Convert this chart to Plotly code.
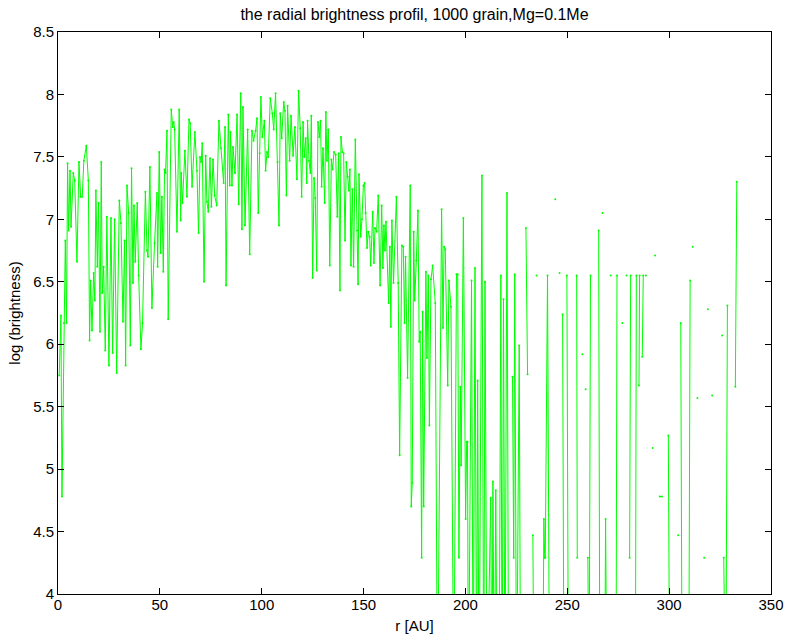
import plotly.graph_objects as go

# ---- data (r in AU, log brightness); None = gap ----
r_inner = [0.6,1.45,1.95,2.9,3.6,4.2,4.7,5.2,5.9,6.4,
           7.5,8.2,9.3,10.3,11.1,11.9,12.7,13.9,14.9,15.5,
           16.0,16.7,17.5,18.1,18.6,19.3,19.9,20.6,21.25,21.7,
           22.4,23.2,24.0,25.0,26.0,26.8,27.8,28.8,30.1,30.9,
           31.9,32.7]
b_inner = [5.75,6.23,4.78,6.17,6.83,6.17,7.45,6.91,7.39,6.94,
           7.37,7.31,6.66,7.46,7.18,7.18,7.47,7.59,7.31,6.03,
           6.51,6.11,6.57,6.35,7.23,6.62,7.13,6.1,7.46,6.41,
           6.62,5.95,7.02,5.83,7.01,5.93,7.0,5.77,7.15,6.97,
           6.18,6.83]

r_rise = [33.2,33.85,34.7,35.5,36.1,36.8,37.3,37.9,38.9,39.6,
          40.7,41.5,42.9,43.7,44.2,45.1,46.1,47.4,48.6,48.9,
          49.7,50.4,51.0,51.7,52.3,52.8,53.5,54.1,55.6,56.3,
          56.8,57.25,58.4,59.5,60.2,60.5,61.1,62.3]
b_rise = [5.83,7.27,7.05,5.99,7.41,6.49,7.11,6.66,7.13,6.55,
          5.96,6.17,7.22,6.75,6.7,7.42,6.29,6.81,7.21,6.62,
          7.54,6.73,7.18,6.58,7.4,7.37,7.71,6.2,7.88,7.74,
          7.78,7.72,6.9,7.88,6.99,7.37,7.13,7.55]

r_peak = [63.3,64.3,64.9,65.8,67.2,68.2,69.0,69.7,70.3,70.8,
          71.7,72.5,73.1,73.8,74.6,75.3,76.1,76.9,77.9,79.0,
          80.0,81.3,82.0,82.5,83.6,84.3,84.7,85.4,85.9,86.9,
          87.9,88.7,89.7,90.3,90.8,91.8,93.1,94.1,95.2,96.0,
          97.0,97.7,98.3,99.0,99.6,100.3,101.3,101.9,102.6,103.2,
          104.2,105.2,105.9,106.8,107.8,108.5,109.1,109.8,110.8,111.4,
          112.1,112.7,113.7,114.4,115.4,116.3,117.3,118.1,118.9]
b_peak = [7.18,7.8,7.77,7.26,7.7,7.39,6.89,7.5,7.46,7.61,
          6.5,7.51,7.14,7.06,7.49,7.1,7.48,7.19,7.11,7.79,
          7.57,7.29,7.74,6.47,7.84,7.27,7.7,7.27,7.58,7.37,
          7.84,7.12,8.01,6.92,7.9,6.95,7.72,6.72,7.71,7.63,
          7.71,7.81,7.05,7.53,7.98,7.66,7.79,7.39,7.54,7.5,
          7.97,7.85,7.72,8.01,7.46,6.95,7.85,7.65,7.94,7.87,
          7.19,7.91,7.47,7.83,7.51,7.74,7.32,8.03,7.73]

r_fall = [119.6,120.3,120.9,121.6,122.1,122.5,123.2,123.9,124.35,125.0,
          125.7,126.3,127.0,127.6,128.3,128.9,129.4,130.1,130.9,131.5,
          132.0,132.7,133.4,134.2,134.8,135.5,136.3,137.1,137.8,138.4,
          138.9,139.6,140.2,140.9,141.5,142.2,142.8,143.3,143.8,144.5,
          145.1,145.95,146.8,147.3,147.75,148.6,149.2,149.9,150.5,151.0,
          151.7,152.3,153.0,153.5,154.5,155.1,155.6,156.4,157.2,158.1]
b_fall = [7.18,7.78,7.5,7.65,7.29,7.79,7.47,7.37,7.83,6.53,
          7.33,7.17,6.59,7.78,7.66,7.79,7.26,7.57,7.13,7.86,
          7.47,7.72,6.63,7.48,7.4,7.54,7.52,7.02,7.53,6.43,
          7.66,7.54,7.53,6.83,7.46,7.34,7.23,7.4,6.63,7.24,
          6.62,7.64,6.91,6.48,7.36,6.86,7.0,7.27,7.29,7.05,
          6.77,6.9,6.86,6.63,7.06,6.65,6.93,6.9,7.19,6.47]

r_edge = [158.9,159.5,160.0,160.5,161.0,162.3,162.9,163.4,163.9,164.7,
          166.1,167.0,167.7,168.8,169.5,170.1,170.6,171.6,172.9,173.4,
          173.9,174.6,175.1,175.9,176.7,177.3,177.8,178.5,179.0,179.5,
          180.6,181.1,181.8,182.3,183.1,183.9,185.2,186.3,188.3,189.0,
          189.5,190.1,191.3,191.9,192.9]
b_edge = [7.11,6.61,6.95,6.75,6.98,6.33,6.78,6.14,6.99,6.49,
          7.18,6.49,5.11,6.79,6.78,6.17,6.7,5.73,7.27,4.7,
          4.89,6.9,6.35,6.67,7.07,6.02,6.1,4.29,6.26,4.7,
          6.58,5.89,6.55,5.35,6.52,6.63,6.33,3.0,7.08,6.13,
          6.78,6.76,5.67,6.51,6.3]

r_sparse1 = [194.3,195.6,196.2,196.8,197.5,197.9,199.0,200.1,200.6,201.0,
             201.5,203.0,203.8,204.7,205.5,206.0,206.7,208.1,209.0,209.6,
             210.6,212.4,213.0,213.5,214.2,214.9,215.6,216.5,217.4,218.0,
             218.7,219.4,220.4,221.2,None,223.1,223.7,224.2,225.1,226.4,
             227.1,None,229.7,230.5,None]
b_sparse1 = [3.0,6.56,6.56,4.29,5.66,5.03,7.01,4.6,5.22,5.22,
             3.0,6.51,3.0,6.61,3.0,5.71,3.0,7.35,3.0,6.5,
             3.0,4.77,3.0,4.9,3.0,4.83,3.0,3.0,6.55,3.0,
             6.36,3.0,7.21,3.0,None,5.74,4.29,6.56,3.0,5.99,
             3.0,None,6.93,5.76,None]

r_sparse2 = [233.1,233.7,None,234.9,None,237.9,238.5,238.9,239.2,240.3,
             241.3,None,244.1,None,246.2,None,247.7,248.4,None,249.8,
             250.6,None,254.6,254.9,None,257.4,None,259.0,None,260.1,
             260.7,261.4,None,265.4,266.0,None,267.3,None,268.3,268.8,
             269.5,None,271.3,None,273.9,274.4,None,277.0,None,279.1,
             None,280.6,281.1,None,283.4,283.9,None,285.2,285.5,None,
             286.8,287.3,None,288.6,None]
b_sparse2 = [4.47,3.0,None,6.55,None,3.0,4.6,4.29,4.29,6.55,
             3.0,None,7.16,None,6.57,None,6.24,3.0,None,6.55,
             3.0,None,6.55,4.29,None,5.92,None,5.64,None,4.29,
             3.0,6.55,None,6.91,3.0,None,7.05,None,3.0,4.6,
             3.0,None,6.55,None,3.0,6.55,None,6.17,None,6.55,
             None,4.29,6.55,None,3.0,6.55,None,5.67,6.55,None,
             5.9,6.55,None,6.55,None]

r_outer = [291.9,None,293.1,None,295.4,296.5,None,299.6,300.3,None,
           304.4,None,305.7,306.4,None,309.6,310.3,None,311.6,None,
           313.9,None,317.2,None,319.0,None,321.1,None,326.0,None,
           326.8,327.8,328.6,None,332.5,333.2]
b_outer = [5.17,None,6.71,None,4.78,4.78,None,5.27,3.0,None,
           4.47,None,6.17,3.0,None,3.0,6.51,None,6.78,None,
           5.57,None,4.29,None,6.28,None,5.59,None,6.07,None,
           4.29,3.0,6.31,None,5.66,7.3]

x_ticks = [0, 50, 100, 150, 200, 250, 300, 350]
y_ticks = [4, 4.5, 5, 5.5, 6, 6.5, 7, 7.5, 8, 8.5]

r_all = r_inner + r_rise + r_peak + r_fall + r_edge + r_sparse1 + r_sparse2 + r_outer
b_all = b_inner + b_rise + b_peak + b_fall + b_edge + b_sparse1 + b_sparse2 + b_outer

FONT = "Liberation Sans, Arial, Helvetica, sans-serif"

fig = go.Figure(go.Scatter(
    x=r_all, y=b_all, mode="lines+markers",
    line=dict(color="#00ff00", width=1),
    marker=dict(color="#00ff00", size=2),
    connectgaps=False, hoverinfo="x+y", showlegend=False,
))

axis_common = dict(
    showgrid=False, zeroline=False, showline=True, linecolor="black", linewidth=1,
    mirror="ticks", ticks="inside", ticklen=6, tickwidth=1, tickcolor="black",
    tickfont=dict(family=FONT, size=15, color="black"),
)
fig.update_xaxes(range=[0, 350], tickvals=x_ticks, ticktext=[str(v) for v in x_ticks],
                 ticklabelstandoff=-3,
                 title=dict(text="r [AU]", font=dict(family=FONT, size=15, color="black"), standoff=8),
                 **axis_common)
fig.update_yaxes(range=[4, 8.5], tickvals=y_ticks, ticktext=[f"{v:g}" for v in y_ticks],
                 title=dict(text="log (brightness)", font=dict(family=FONT, size=15, color="black"), standoff=8),
                 **axis_common)

fig.update_layout(
    width=787, height=644,
    margin=dict(l=58, r=16, t=32, b=50, autoexpand=False),
    paper_bgcolor="white", plot_bgcolor="white",
    title=dict(text="the radial brightness profil, 1000 grain,Mg=0.1Me",
               x=0.5, xref="paper", xanchor="center",
               y=1 - 14 / 644, yanchor="middle", yref="container",
               font=dict(family=FONT, size=16, color="black")),
)

fig.write_html("out.html")
